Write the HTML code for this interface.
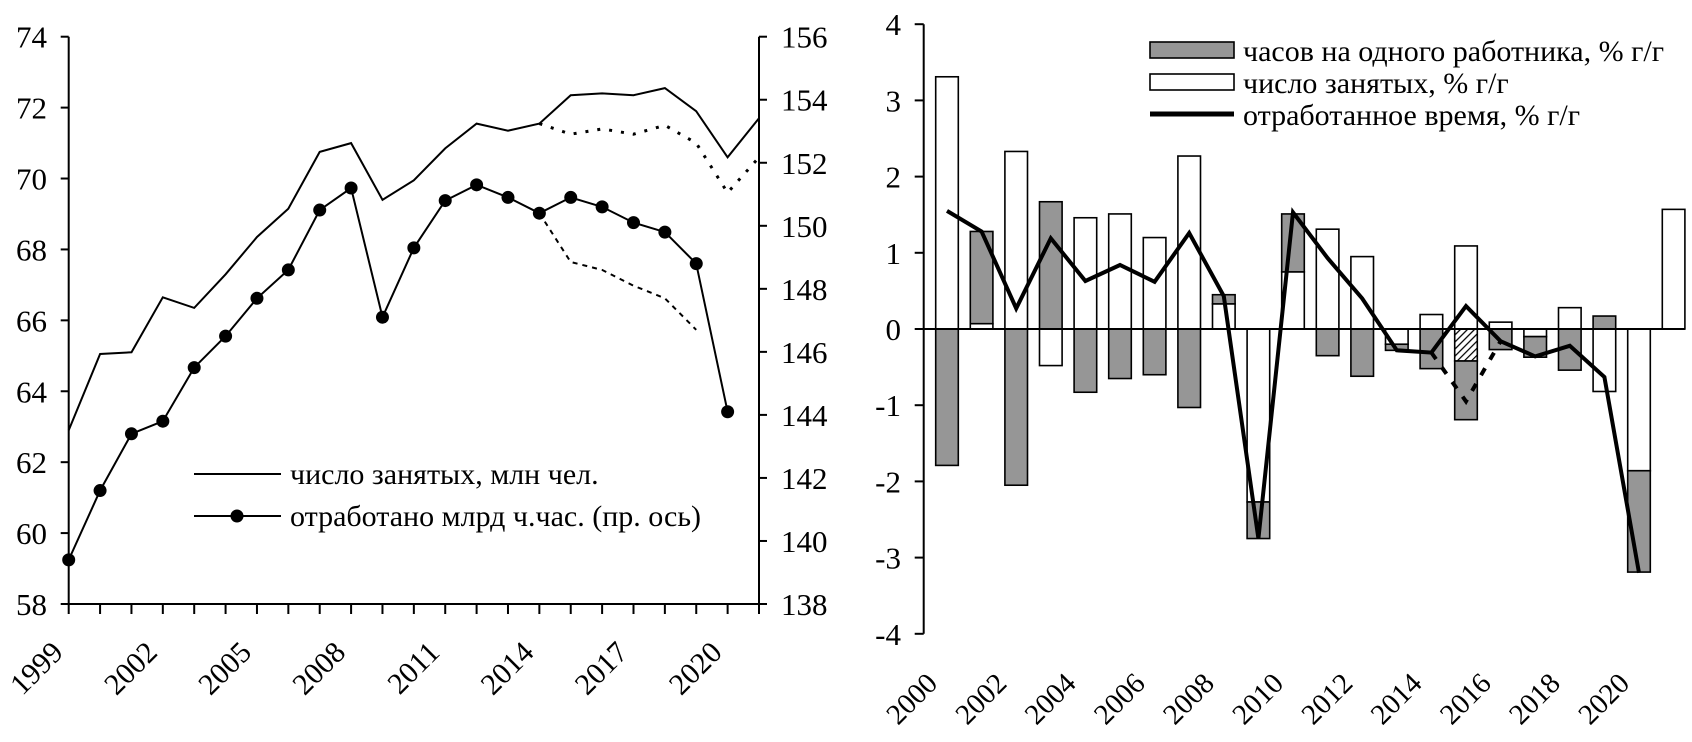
<!DOCTYPE html>
<html><head><meta charset="utf-8"><style>
html,body{margin:0;padding:0;background:#fff;}
svg{display:block;font-family:"Liberation Serif",serif;}
</style></head><body>
<svg id="c" width="1692" height="742" viewBox="0 0 1692 742" xmlns="http://www.w3.org/2000/svg">
<defs><pattern id="hatch" patternUnits="userSpaceOnUse" width="5" height="5" patternTransform="rotate(45)"><rect width="5" height="5" fill="#fff"/><line x1="0" y1="0" x2="0" y2="5" stroke="#000" stroke-width="2.5"/></pattern></defs>
<g id="left"></g>
<g id="right"></g>
</svg>
<script>
const leftYears=[1999,2000,2001,2002,2003,2004,2005,2006,2007,2008,2009,2010,2011,2012,2013,2014,2015,2016,2017,2018,2019,2020,2021];
const employed=[62.9,65.05,65.1,66.65,66.35,67.3,68.35,69.15,70.75,71.0,69.4,69.95,70.85,71.55,71.35,71.55,72.35,72.4,72.35,72.55,71.9,70.6,71.7];
const employedAlt=[null,null,null,null,null,null,null,null,null,null,null,null,null,null,null,71.55,71.25,71.4,71.25,71.5,71.0,69.6,70.6];
const hours=[139.4,141.6,143.4,143.8,145.5,146.5,147.7,148.6,150.5,151.2,147.1,149.3,150.8,151.3,150.9,150.4,150.9,150.6,150.1,149.8,148.8,144.1];
const hoursAlt=[null,null,null,null,null,null,null,null,null,null,null,null,null,null,null,150.4,148.85,148.6,148.1,147.7,146.7];
const leftTicks=[58,60,62,64,66,68,70,72,74];
const rightTicks=[138,140,142,144,146,148,150,152,154,156];
const leftYearLabels=[1999,2002,2005,2008,2011,2014,2017,2020];

const barYears=[2000,2001,2002,2003,2004,2005,2006,2007,2008,2009,2010,2011,2012,2013,2014,2015,2016,2017,2018,2019,2020,2021];
const hoursPerWorker=[-1.79,1.21,-2.05,1.67,-0.83,-0.65,-0.60,-1.03,0.12,-0.48,0.76,-0.35,-0.62,-0.08,-0.52,-0.77,-0.27,-0.27,-0.54,0.17,-1.33,0];
const hatchedPart=[0,0,0,0,0,0,0,0,0,0,0,0,0,0,0,-0.42,0,0,0,0,0,0];
const employedPct=[3.31,0.07,2.33,-0.48,1.46,1.51,1.20,2.27,0.33,-2.27,0.75,1.31,0.95,-0.20,0.19,1.09,0.09,-0.10,0.28,-0.82,-1.86,1.57];
const totalHours=[1.55,1.28,0.27,1.19,0.63,0.84,0.62,1.26,0.43,-2.75,1.53,0.93,0.40,-0.28,-0.31,0.30,-0.16,-0.36,-0.22,-0.63,-3.20];
const totalAlt=[null,null,null,null,null,null,null,null,null,null,null,null,null,null,-0.31,-0.95,-0.16];
const barTicks=[-4,-3,-2,-1,0,1,2,3,4];
const barYearLabels=[2000,2002,2004,2006,2008,2010,2012,2014,2016,2018,2020];

const NS="http://www.w3.org/2000/svg";
function mk(p,t,a){const e=document.createElementNS(NS,t);for(const k in a)e.setAttribute(k,a[k]);p.appendChild(e);return e;}

// LEFT
const L=document.getElementById('left');
const lx0=68.7,lx1=759,ly0=604,ly1=36.7;
const xL=i=>lx0+i*(lx1-lx0)/22;
const yL=v=>ly0-(v-58)/(74-58)*(ly0-ly1);
const yR=v=>ly0-(v-138)/(156-138)*(ly0-ly1);
let e;
e=mk(L,'path',{d:`M${lx0},${ly1}V${ly0}H${lx1}V${ly1}`,fill:'none',stroke:'#000','stroke-width':2});


leftTicks.forEach(v=>{const y=yL(v);
 e=mk(L,'line',{x1:lx0-8,x2:lx0,y1:y,y2:y,stroke:'#000','stroke-width':2});
 
 
 e=mk(L,'text',{x:47,y:y+11,'text-anchor':'end','font-size':31});e.textContent=v;
 
 });
rightTicks.forEach(v=>{const y=yR(v);
 e=mk(L,'line',{x1:lx1,x2:lx1+8,y1:y,y2:y,stroke:'#000','stroke-width':2});
 
 
 e=mk(L,'text',{x:781,y:y+11,'font-size':31});e.textContent=v;
 
 });
leftYears.forEach((yr,i)=>{const x=xL(i);
 e=mk(L,'line',{x1:x,x2:x,y1:ly0,y2:ly0+10,stroke:'#000','stroke-width':2});
 
 
 if(leftYearLabels.includes(yr)){const ax=x-4,ay=ly0+50;
 e=mk(L,'text',{x:ax,y:ay,'text-anchor':'end','font-size':30,transform:`rotate(-45 ${ax} ${ay})`});e.textContent=yr;
 
 }});
function pathOf(arr,xf,yf){let d='',s=false;arr.forEach((v,i)=>{if(v===null){s=false;return;}d+=(s?'L':'M')+xf(i).toFixed(1)+','+yf(v).toFixed(1);s=true;});return d;}
e=mk(L,'path',{d:pathOf(employedAlt,xL,yL),fill:'none',stroke:'#000','stroke-width':3,'stroke-dasharray':'3 9'});


e=mk(L,'path',{d:pathOf(hoursAlt,xL,yR),fill:'none',stroke:'#000','stroke-width':2,'stroke-dasharray':'5 5'});


e=mk(L,'path',{d:pathOf(employed,xL,yL),fill:'none',stroke:'#000','stroke-width':2});


e=mk(L,'path',{d:pathOf(hours,xL,yR),fill:'none',stroke:'#000','stroke-width':2});


hours.forEach((v,i)=>{e=mk(L,'circle',{cx:xL(i),cy:yR(v),r:6.5,fill:'#000'});
 
 });
e=mk(L,'line',{x1:194,x2:281,y1:474,y2:474,stroke:'#000','stroke-width':2});


e=mk(L,'text',{x:290,y:484,'font-size':30});e.textContent='число занятых, млн чел.';


e=mk(L,'line',{x1:194,x2:281,y1:516,y2:516,stroke:'#000','stroke-width':2});


e=mk(L,'circle',{cx:237,cy:516,r:6.5,fill:'#000'});


e=mk(L,'text',{x:290,y:526,'font-size':30});e.textContent='отработано млрд ч.час. (пр. ось)';



// RIGHT
const R=document.getElementById('right');
const rx0=923.7,slot=34.6,bw=22.6;
const yB=v=>329-v*76.2;
const xc=i=>rx0+slot*i+slot/2+6;
e=mk(R,'line',{x1:rx0,x2:rx0,y1:yB(4),y2:yB(-4),stroke:'#000','stroke-width':2});


barTicks.forEach(v=>{const y=yB(v);
 e=mk(R,'line',{x1:rx0-9,x2:rx0,y1:y,y2:y,stroke:'#000','stroke-width':2});
 
 
 e=mk(R,'text',{x:901,y:y+11,'text-anchor':'end','font-size':31});e.textContent=v;
 
 });
function rect(x,a,b,fill,name){const y1=yB(Math.max(a,b)),y2=yB(Math.min(a,b));if(y2-y1<0.5)return;
 e=mk(R,'rect',{x:x,y:y1,width:bw,height:y2-y1,fill:fill,stroke:'#000','stroke-width':1.6});
 
 }
barYears.forEach((yr,i)=>{const x=xc(i)-bw/2;let pos=0,neg=0;
 const w=employedPct[i];
 if(w>=0){rect(x,0,w,'#fff','bar-employed');pos=w;}else{rect(x,0,w,'#fff','bar-employed');neg=w;}
 const hp=hatchedPart[i];
 if(hp<0){rect(x,neg,neg+hp,'url(#hatch)','bar-hatched');neg+=hp;}
 const g=hoursPerWorker[i];
 if(g>=0){rect(x,pos,pos+g,'#969696','bar-hours-per-worker');}else{rect(x,neg,neg+g,'#969696','bar-hours-per-worker');}
 if(barYearLabels.includes(yr)){const ax=xc(i)-8,ay=685;
 e=mk(R,'text',{x:ax,y:ay,'text-anchor':'end','font-size':29,transform:`rotate(-45 ${ax} ${ay})`});e.textContent=yr;
 
 }});
e=mk(R,'line',{x1:rx0,x2:rx0+slot*22,y1:yB(0),y2:yB(0),stroke:'#000','stroke-width':2});


e=mk(R,'path',{d:pathOf(totalAlt,xc,yB),fill:'none',stroke:'#000','stroke-width':4,'stroke-dasharray':'8 10'});


e=mk(R,'path',{d:pathOf(totalHours,xc,yB),fill:'none',stroke:'#000','stroke-width':4,'stroke-linejoin':'miter'});


e=mk(R,'rect',{x:1150,y:42,width:84,height:16,fill:'#969696',stroke:'#000','stroke-width':1.6});


e=mk(R,'text',{x:1243,y:61,'font-size':30});e.textContent='часов на одного работника, % г/г';


e=mk(R,'rect',{x:1150,y:74,width:84,height:16,fill:'#fff',stroke:'#000','stroke-width':1.6});


e=mk(R,'text',{x:1243,y:93,'font-size':30});e.textContent='число занятых, % г/г';


e=mk(R,'line',{x1:1150,x2:1234,y1:114,y2:114,stroke:'#000','stroke-width':5});


e=mk(R,'text',{x:1243,y:125,'font-size':30});e.textContent='отработанное время, % г/г';


</script>
</body></html>
